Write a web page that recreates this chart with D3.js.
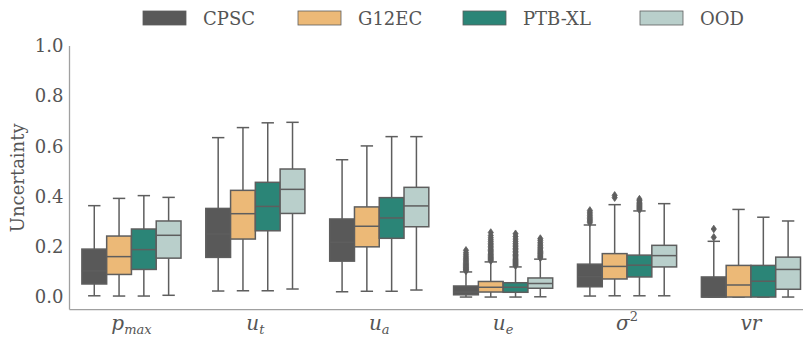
<!DOCTYPE html>
<html>
<head>
<meta charset="utf-8">
<script src="https://cdn.jsdelivr.net/npm/d3@7"></script>
<style>
  html, body { margin: 0; padding: 0; background: #fff; }
  svg { display: block; }
</style>
</head>
<body>
<svg id="chart" width="803" height="339"></svg>
<script>
// ---------- data ----------
const categories = ["p_max", "u_t", "u_a", "u_e", "sigma2", "vr"];
const datasets = ["CPSC", "G12EC", "PTB-XL", "OOD"];
const colors = ["#595959", "#ecb977", "#2b8577", "#b9cfcb"];
const yTicks = [0.0, 0.2, 0.4, 0.6, 0.8, 1.0];

// box stats per category: [whiskerLow, q1, median, q3, whiskerHigh]
const cpscStats = [
  [0.005, 0.052, 0.104, 0.191, 0.364],
  [0.024, 0.158, 0.251, 0.353, 0.635],
  [0.021, 0.143, 0.218, 0.311, 0.547],
  [0.000, 0.009, 0.020, 0.044, 0.100],
  [0.004, 0.041, 0.081, 0.131, 0.287],
  [0.000, 0.000, 0.000, 0.080, 0.222]
];
const g12ecStats = [
  [0.004, 0.090, 0.161, 0.243, 0.393],
  [0.025, 0.231, 0.332, 0.425, 0.675],
  [0.023, 0.200, 0.282, 0.359, 0.602],
  [0.000, 0.020, 0.039, 0.062, 0.140],
  [0.005, 0.072, 0.122, 0.173, 0.368],
  [0.000, 0.000, 0.048, 0.126, 0.349]
];
const ptbxlStats = [
  [0.004, 0.110, 0.189, 0.271, 0.404],
  [0.025, 0.264, 0.361, 0.457, 0.694],
  [0.023, 0.234, 0.315, 0.396, 0.639],
  [0.000, 0.019, 0.039, 0.057, 0.120],
  [0.005, 0.080, 0.127, 0.167, 0.343],
  [0.000, 0.000, 0.063, 0.126, 0.318]
];
const oodStats = [
  [0.007, 0.155, 0.246, 0.303, 0.397],
  [0.032, 0.333, 0.429, 0.510, 0.696],
  [0.028, 0.280, 0.363, 0.437, 0.639],
  [0.001, 0.035, 0.054, 0.076, 0.151],
  [0.005, 0.120, 0.165, 0.206, 0.372],
  [0.000, 0.031, 0.110, 0.159, 0.303]
];

// outliers per category
const cpscFliers = [[], [], [],
  [0.104, 0.108, 0.111, 0.115, 0.118, 0.122, 0.126, 0.130, 0.134, 0.139, 0.144, 0.149, 0.155, 0.161, 0.168, 0.176, 0.186],
  [0.296, 0.302, 0.307, 0.312, 0.318, 0.324, 0.331, 0.338, 0.345],
  [0.238, 0.271]];
const g12ecFliers = [[], [], [],
  [0.145, 0.149, 0.153, 0.157, 0.161, 0.166, 0.170, 0.175, 0.180, 0.185, 0.190, 0.196, 0.202, 0.208, 0.214, 0.221, 0.228, 0.236, 0.245, 0.257],
  [0.396, 0.405],
  []];
const ptbxlFliers = [[], [], [],
  [0.125, 0.129, 0.133, 0.137, 0.141, 0.146, 0.150, 0.155, 0.160, 0.165, 0.170, 0.176, 0.182, 0.188, 0.194, 0.200, 0.207, 0.214, 0.222, 0.231, 0.241, 0.252],
  [0.348, 0.352, 0.356, 0.360, 0.364, 0.368, 0.373, 0.378, 0.384, 0.390],
  []];
const oodFliers = [[], [], [],
  [0.156, 0.160, 0.164, 0.168, 0.173, 0.177, 0.182, 0.187, 0.192, 0.198, 0.204, 0.211, 0.218, 0.226, 0.233],
  [],
  []];

const allStats = [cpscStats, g12ecStats, ptbxlStats, oodStats];
const allFliers = [cpscFliers, g12ecFliers, ptbxlFliers, oodFliers];

// ---------- layout ----------
const FONT = '"DejaVu Serif", serif';
const textColor = "#555555";
const svg = d3.select("#chart").attr("font-family", FONT);
const plotLeft = 69.5, plotRight = 812.9, plotTop = 46, plotBottom = 309.6;
const lineColor = "#5e5e5e";
const spineColor = "#a0a0a0";

const x = d3.scaleBand().domain(categories).range([plotLeft, plotRight]).paddingInner(0).paddingOuter(0);
const xSub = d3.scaleBand().domain(datasets).range([0, x.bandwidth()]).paddingOuter(0.5).paddingInner(0);
const y = d3.scaleLinear().domain([-0.05, 1.0]).range([plotBottom, plotTop]);

// spines
svg.append("line").attr("x1", plotLeft).attr("x2", plotLeft).attr("y1", y(1.0)).attr("y2", plotBottom)
  .attr("stroke", spineColor).attr("stroke-width", 1.3);
svg.append("line").attr("x1", plotLeft).attr("x2", 803).attr("y1", plotBottom).attr("y2", plotBottom)
  .attr("stroke", spineColor).attr("stroke-width", 1.3);

// y axis tick labels
const yAxis = d3.axisLeft(y).tickValues(yTicks).tickSize(0).tickPadding(6).tickFormat(d3.format(".1f"));
const gy = svg.append("g").attr("transform", `translate(${plotLeft},0)`).call(yAxis);
gy.attr("font-family", FONT).attr("font-size", 18);
gy.select(".domain").remove();
gy.selectAll("text").attr("fill", textColor);

// y label
svg.append("text").attr("transform", `translate(24,${(plotTop + plotBottom) / 2}) rotate(-90)`)
  .attr("text-anchor", "middle").attr("font-size", 18).attr("fill", textColor).text("Uncertainty");

// x labels (math italic)
const xLabelDefs = {
  p_max: [["p", ""], ["max", "sub"]],
  u_t: [["u", ""], ["t", "sub"]],
  u_a: [["u", ""], ["a", "sub"]],
  u_e: [["u", ""], ["e", "sub"]],
  sigma2: [["σ", ""], ["2", "sup"]],
  vr: [["vr", ""]]
};
categories.forEach(c => {
  const t = svg.append("text").attr("x", x(c) + x.bandwidth() / 2).attr("y", 330)
    .attr("text-anchor", "middle").attr("font-size", 20).attr("font-style", "italic").attr("fill", textColor);
  xLabelDefs[c].forEach(([s, kind]) => {
    const ts = t.append("tspan").text(s);
    if (kind === "sub") ts.attr("font-size", 13).attr("dy", 4);
    if (kind === "sup") ts.attr("font-size", 13).attr("font-style", "normal").attr("dy", -9);
  });
});

// boxes
const bw = xSub.bandwidth();
datasets.forEach((ds, di) => {
  const g = svg.append("g");
  categories.forEach((c, ci) => {
    const [lo, q1, med, q3, hi] = allStats[di][ci];
    const cx = x(c) + xSub(ds) + bw / 2;
    const x0 = x(c) + xSub(ds);
    const capW = bw / 2;
    g.append("line").attr("x1", cx).attr("x2", cx).attr("y1", y(q3)).attr("y2", y(hi))
      .attr("stroke", lineColor).attr("stroke-width", 1.5);
    g.append("line").attr("x1", cx).attr("x2", cx).attr("y1", y(q1)).attr("y2", y(lo))
      .attr("stroke", lineColor).attr("stroke-width", 1.5);
    g.append("line").attr("x1", cx - capW / 2).attr("x2", cx + capW / 2).attr("y1", y(hi)).attr("y2", y(hi))
      .attr("stroke", lineColor).attr("stroke-width", 1.5);
    g.append("line").attr("x1", cx - capW / 2).attr("x2", cx + capW / 2).attr("y1", y(lo)).attr("y2", y(lo))
      .attr("stroke", lineColor).attr("stroke-width", 1.5);
    g.append("rect").attr("x", x0).attr("width", bw).attr("y", y(q3)).attr("height", Math.max(0.01, y(q1) - y(q3)))
      .attr("fill", colors[di]).attr("stroke", lineColor).attr("stroke-width", 1.5);
    g.append("line").attr("x1", x0).attr("x2", x0 + bw).attr("y1", y(med)).attr("y2", y(med))
      .attr("stroke", lineColor).attr("stroke-width", 1.5);
    allFliers[di][ci].forEach(v => {
      const py = y(v);
      g.append("path")
        .attr("d", `M${cx},${py - 3.8}L${cx + 2.6},${py}L${cx},${py + 3.8}L${cx - 2.6},${py}Z`)
        .attr("fill", lineColor).attr("stroke", lineColor).attr("stroke-width", 0.8);
    });
  });
});

// legend
const legendX = [143, 298, 463, 640];
datasets.forEach((ds, i) => {
  svg.append("rect").attr("x", legendX[i]).attr("y", 11).attr("width", 43).attr("height", 14)
    .attr("fill", colors[i]).attr("stroke", lineColor).attr("stroke-width", 0.8);
  svg.append("text").attr("x", legendX[i] + 60).attr("y", 25).attr("font-size", 18).attr("fill", textColor).text(ds);
});
</script>
</body>
</html>
